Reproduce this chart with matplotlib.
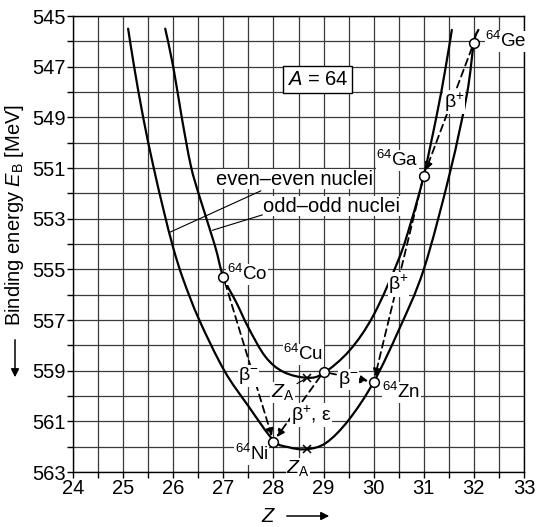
import matplotlib
matplotlib.use('Agg')
import matplotlib.pyplot as plt
import numpy as np
from matplotlib.path import Path
from matplotlib.patches import PathPatch, FancyArrowPatch
from matplotlib.ticker import MultipleLocator

plt.rcParams['font.family'] = ['Liberation Sans', 'DejaVu Sans']
plt.rcParams['mathtext.fontset'] = 'custom'
plt.rcParams['mathtext.rm'] = 'Liberation Sans'
plt.rcParams['mathtext.it'] = 'Liberation Sans:italic'
plt.rcParams['mathtext.bf'] = 'Liberation Sans:bold'

# odd-odd nuclei curve
z_odd = [25.84, 26.00, 26.17, 26.35, 26.52, 26.83, 27.00, 27.27, 27.50, 27.84,
         28.20, 28.67, 29.00, 29.52, 30.00, 30.50, 30.75, 31.00, 31.26, 31.43,
         31.56]
e_odd = [545.5, 547.0, 549.0, 550.9, 552.1, 554.05, 555.3, 556.35, 557.3, 558.45,
         559.05, 559.28, 559.1, 558.2, 556.8, 554.6, 553.1, 551.3, 548.9, 547.1,
         545.55]

# even-even nuclei curve
z_even = [25.10, 25.22, 25.40, 25.60, 25.80, 26.00, 26.20, 26.52, 27.02, 27.50,
          28.00, 28.30, 28.66, 29.05, 29.50, 30.00, 30.50, 31.00, 31.52, 31.86,
          32.00, 32.09]
e_even = [545.5, 547.0, 549.0, 550.9, 552.6, 554.15, 555.4, 557.0, 559.0, 560.4,
          561.75, 562.02, 562.1, 561.85, 560.95, 559.45, 557.4, 555.0, 551.2, 548.1,
          546.05, 545.55]

# nuclides with A = 64
nuclides = ['Co', 'Ni', 'Cu', 'Zn', 'Ga', 'Ge']
z_nuc = [27, 28, 29, 30, 31, 32]
e_nuc = [555.3, 561.8, 559.05, 559.45, 551.3, 546.05]

# decays: (from, to, label)
decays = [('Co', 'Ni', r'β$^{-}$'), ('Cu', 'Ni', r'β$^{+}$, ε'),
          ('Cu', 'Zn', r'β$^{-}$'), ('Ga', 'Zn', r'β$^{+}$'),
          ('Ge', 'Ga', r'β$^{+}$')]

# positions of Z_A (minima)
za_odd, eza_odd = 28.67, 559.28
za_even, eza_even = 28.66, 562.1

z_ticks = list(range(24, 34))
e_ticks = list(range(545, 564, 2))


def smooth_path(xs, ys):
    # Catmull-Rom through the read points, drawn as cubic Bezier segments
    p = np.column_stack([xs, ys])
    verts, codes = [p[0]], [Path.MOVETO]
    n = len(p)
    for i in range(n - 1):
        p0 = p[max(i - 1, 0)]
        p1, p2 = p[i], p[i + 1]
        p3 = p[min(i + 2, n - 1)]
        verts += [p1 + (p2 - p0) / 6, p2 - (p3 - p1) / 6, p2]
        codes += [Path.CURVE4] * 3
    return Path(verts, codes)


W, H = 536, 527
fig = plt.figure(figsize=(W / 100, H / 100), dpi=100)
ax = fig.add_axes([73 / W, 1 - 472 / H, (524 - 73) / W, (472 - 16) / H])

ax.set_xlim(24, 33)
ax.set_ylim(563, 545)
ax.set_xticks(z_ticks)
ax.set_yticks(e_ticks)
ax.xaxis.set_minor_locator(MultipleLocator(0.5))
ax.yaxis.set_minor_locator(MultipleLocator(1))
ax.tick_params(which='both', direction='out', length=4, width=1, labelsize=14.5, pad=1)
ax.grid(which='both', color='#3a3a3a', lw=0.9)
for s in ax.spines.values():
    s.set_linewidth(1.0)

for xs, ys in [(z_odd, e_odd), (z_even, e_even)]:
    ax.add_patch(PathPatch(smooth_path(xs, ys), fc='none', ec='k', lw=1.6,
                           capstyle='round', zorder=3))

# decay arrows
pos = {n: (z, e) for n, z, e in zip(nuclides, z_nuc, e_nuc)}
label_xy = [(27.5, 559.2), (28.75, 560.75), (29.5, 559.35), (30.5, 555.6), (31.6, 548.4)]
for (a, b, lab), lxy in zip(decays, label_xy):
    ax.annotate('', xy=pos[b], xytext=pos[a],
                arrowprops=dict(arrowstyle='-|>', ls=(0, (4, 2.5)), lw=1.3,
                                color='k', shrinkA=4, shrinkB=4, mutation_scale=11),
                zorder=4)
    ax.text(*lxy, lab, fontsize=14, ha='center', va='center', zorder=6,
            bbox=dict(fc='white', ec='none', pad=0.3))

ax.plot(z_nuc, e_nuc, 'o', ms=7, mfc='white', mec='k', mew=1.1, zorder=7)

# nuclide labels
lab_pos = {'Co': (27.07, 555.2, 'left'), 'Ni': (27.9, 562.3, 'right'),
           'Cu': (28.2, 558.35, 'left'), 'Zn': (30.17, 559.85, 'left'),
           'Ga': (30.9, 550.7, 'right'), 'Ge': (32.22, 546.0, 'left')}
for n in nuclides:
    x, y, ha = lab_pos[n]
    ax.text(x, y, r'$^{64}$' + n, fontsize=13.5, ha=ha, va='center', zorder=6,
            bbox=dict(fc='white', ec='none', pad=0.3))

# Z_A marks
ax.plot([za_odd, za_even], [eza_odd, eza_even], 'x', color='k', ms=6, mew=1.1, zorder=5)
ax.annotate(r'$Z_\mathrm{A}$', xy=(za_odd, eza_odd), xytext=(28.18, 559.85),
            fontsize=14, ha='center', va='center', zorder=6,
            arrowprops=dict(arrowstyle='-', lw=0.8, color='k', shrinkA=2, shrinkB=2),
            bbox=dict(fc='white', ec='none', pad=0.3))
ax.text(28.49, 562.85, r'$Z_\mathrm{A}$', fontsize=14, ha='center', va='center',
        zorder=6, clip_on=False, bbox=dict(fc='white', ec='none', pad=0.3))

# legend labels with leader lines
ax.text(26.85, 551.45, 'even–even nuclei', fontsize=14.5, ha='left', va='center',
        zorder=6, bbox=dict(fc='white', ec='none', pad=0.3))
ax.text(27.8, 552.5, 'odd–odd nuclei', fontsize=14.5, ha='left', va='center',
        zorder=6, bbox=dict(fc='white', ec='none', pad=0.3))
ax.annotate('', xy=(25.94, 553.53), xytext=(27.75, 551.9),
            arrowprops=dict(arrowstyle='-', lw=0.8, color='k', shrinkA=0, shrinkB=0))
ax.annotate('', xy=(26.78, 553.46), xytext=(27.78, 552.85),
            arrowprops=dict(arrowstyle='-', lw=0.8, color='k', shrinkA=0, shrinkB=0))

ax.text(28.88, 547.5, r'$A$ = 64', fontsize=14.5, ha='center', va='center', zorder=6,
        bbox=dict(fc='white', ec='k', lw=1.0, pad=3))

# axis labels
fig.text(15 / W, 1 - 215 / H, r'Binding energy $E_\mathrm{B}$ [MeV]', rotation=90,
         fontsize=14.5, ha='center', va='center')
fig.patches.append(FancyArrowPatch(
    (15 / W, 1 - 337 / H), (15 / W, 1 - 380 / H), transform=fig.transFigure,
    arrowstyle='-|>', mutation_scale=12, lw=1.1, color='k'))
fig.text(269 / W, 1 - 517 / H, r'$Z$', fontsize=14.5, ha='center', va='center')
fig.patches.append(FancyArrowPatch(
    (284 / W, 1 - 516 / H), (332 / W, 1 - 516 / H), transform=fig.transFigure,
    arrowstyle='-|>', mutation_scale=12, lw=1.1, color='k'))

fig.savefig('out.png', dpi=100, facecolor='white')
